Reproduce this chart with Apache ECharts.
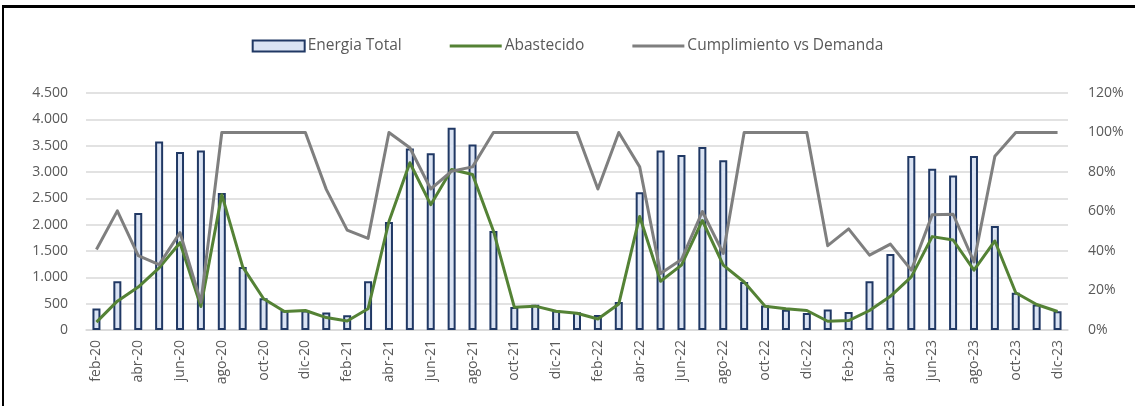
<!DOCTYPE html>
<html>
<head>
<meta charset="utf-8">
<script src="https://cdn.jsdelivr.net/npm/echarts@6/dist/echarts.min.js"></script>
<style>
html, body {
  margin: 0;
  padding: 0;
  background: #fff;
}
/* FRAME */
.frame {
  position: absolute;
  left: 2px;
  top: 5px;
  width: 1133px;
  height: 401px;
  border-left: 2px solid #000;
  border-top: 3px solid #000;
  box-sizing: border-box;
}
#chart {
  position: absolute;
  left: 0;
  top: 0;
  width: 1135px;
  height: 406px;
}
</style>
</head>
<body>
<div class="frame"></div>
<div id="chart"></div>
<script>
const months = [
  'feb-20', 'mar-20', 'abr-20', 'may-20', 'jun-20', 'jul-20', 'ago-20', 'sep-20', 'oct-20', 'nov-20', 'dic-20',
  'ene-21', 'feb-21', 'mar-21', 'abr-21', 'may-21', 'jun-21', 'jul-21', 'ago-21', 'sep-21', 'oct-21', 'nov-21', 'dic-21',
  'ene-22', 'feb-22', 'mar-22', 'abr-22', 'may-22', 'jun-22', 'jul-22', 'ago-22', 'sep-22', 'oct-22', 'nov-22', 'dic-22',
  'ene-23', 'feb-23', 'mar-23', 'abr-23', 'may-23', 'jun-23', 'jul-23', 'ago-23', 'sep-23', 'oct-23', 'nov-23', 'dic-23'
]
const energiaTotal = [
  410, 925, 2220, 3580, 3380, 3410, 2600, 1195, 605, 370, 370,
  330, 280, 925, 2050, 3445, 3355, 3840, 3520, 1880, 435, 478, 370,
  338, 287, 530, 2615, 3410, 3325, 3475, 3225, 912, 466, 383, 325,
  390, 340, 925, 1445, 3305, 3060, 2935, 3305, 1975, 708, 485, 357
]
const abastecido = [
  150, 548, 816, 1180, 1658, 446, 2570, 1199, 593, 350, 370,
  236, 170, 402, 2060, 3176, 2379, 3048, 2953, 1881, 434, 453, 357,
  319, 210, 495, 2156, 925, 1231, 2079, 1231, 912, 453, 402, 370,
  166, 179, 370, 640, 1008, 1773, 1709, 1135, 1690, 708, 485, 351
]
const cumplimiento = [
  40.8, 60.3, 37.6, 33.1, 49.3, 14.1, 100, 100, 100, 100, 100,
  71.2, 50.6, 46.4, 100, 92.3, 71.4, 80.4, 82.6, 100, 100, 100, 100,
  100, 71.4, 100, 82.6, 28.6, 35.7, 60, 38.8, 100, 100, 100, 100,
  42.7, 51.2, 37.9, 43.5, 30.3, 58.3, 58.6, 34.5, 88, 100, 100, 100
]
const leftTicks = { min: 0, max: 4500, interval: 500 }
const rightTicks = { min: 0, max: 120, interval: 20 }

const textColor = '#595959'
const font = 'Open Sans'
const lineIcon = 'path://M0,0H52V3H0Z'

const chart = echarts.init(document.getElementById('chart'))
chart.setOption({
  animation: false,
  textStyle: { fontFamily: font },
  legend: {
    top: 33,
    left: 'center',
    itemGap: 48,
    itemWidth: 52,
    itemHeight: 11,
    textStyle: { color: textColor, fontSize: 15.5, fontFamily: font, padding: [0, 0, 0, -2] },
    data: [
      { name: 'Energia Total', icon: 'rect' },
      { name: 'Abastecido', icon: lineIcon },
      { name: 'Cumplimiento vs Demanda', icon: lineIcon }
    ]
  },
  grid: {
    left: 86,
    right: 67,
    top: 93,
    bottom: 76
  },
  xAxis: {
    type: 'category',
    data: months,
    axisTick: { show: false },
    axisLine: { lineStyle: { color: '#d9d9d9', width: 1.5 } },
    axisLabel: {
      interval: 1,
      rotate: 90,
      color: textColor,
      fontSize: 14,
      margin: 10
    }
  },
  yAxis: [
    {
      type: 'value',
      min: leftTicks.min,
      max: leftTicks.max,
      interval: leftTicks.interval,
      axisLine: { show: false },
      axisTick: { show: false },
      splitLine: { lineStyle: { color: '#d9d9d9', width: 1.5 } },
      axisLabel: {
        color: textColor,
        fontSize: 14,
        margin: 18,
        formatter: v => v.toLocaleString('de-DE')
      }
    },
    {
      type: 'value',
      min: rightTicks.min,
      max: rightTicks.max,
      interval: rightTicks.interval,
      axisLine: { show: false },
      axisTick: { show: false },
      splitLine: { show: false },
      axisLabel: {
        color: textColor,
        fontSize: 14,
        margin: 20,
        formatter: v => v + '%'
      }
    }
  ],
  series: [
    {
      name: 'Energia Total',
      type: 'bar',
      data: energiaTotal,
      barWidth: 8,
      itemStyle: {
        color: '#dae3f3',
        borderColor: '#203864',
        borderWidth: 2
      }
    },
    {
      name: 'Abastecido',
      type: 'line',
      data: abastecido,
      showSymbol: false,
      symbol: 'none',
      lineStyle: { color: '#548235', width: 3, join: 'round' },
      itemStyle: { color: '#548235' }
    },
    {
      name: 'Cumplimiento vs Demanda',
      type: 'line',
      yAxisIndex: 1,
      data: cumplimiento,
      showSymbol: false,
      symbol: 'none',
      lineStyle: { color: '#7f7f7f', width: 3, join: 'round' },
      itemStyle: { color: '#7f7f7f' }
    }
  ]
})
</script>
</body>
</html>
